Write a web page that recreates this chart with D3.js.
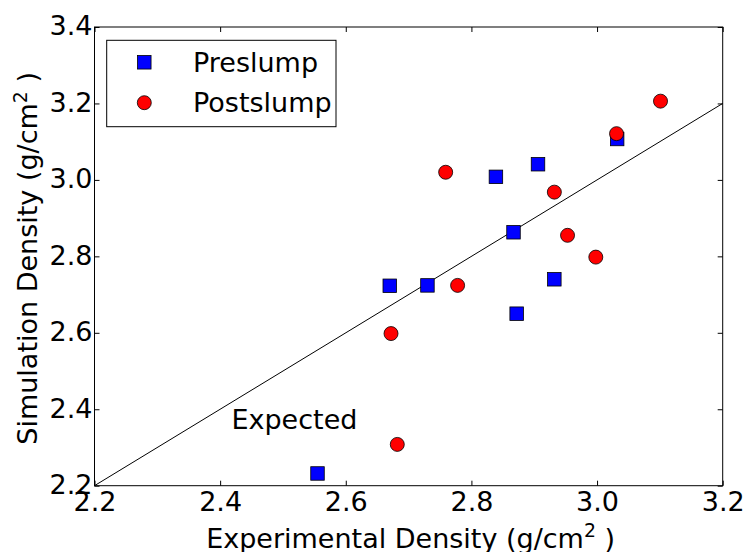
<!DOCTYPE html>
<html>
<head>
<meta charset="utf-8">
<script src="https://cdn.jsdelivr.net/npm/d3@7"></script>
<style>
  html, body { margin: 0; padding: 0; background: #fff; }
  svg { display: block; }
  text { font-family: "DejaVu Sans", sans-serif; fill: #000; }
</style>
</head>
<body>
<svg id="chart" width="747" height="552"></svg>
<script>
// Experimental vs simulated density, before and after slump
const preslumpX = [2.555, 2.670, 2.730, 2.872, 2.932, 2.867, 2.839, 2.906, 3.032];
const preslumpY = [2.232, 2.723, 2.724, 2.650, 2.740, 2.863, 3.008, 3.041, 3.107];
const postslumpX = [2.682, 2.672, 2.778, 2.759, 2.932, 2.953, 2.998, 3.031, 3.101];
const postslumpY = [2.308, 2.598, 2.724, 3.020, 2.968, 2.855, 2.798, 3.121, 3.206];
const xTicks = [2.2, 2.4, 2.6, 2.8, 3.0, 3.2];
const yTicks = [2.2, 2.4, 2.6, 2.8, 3.0, 3.2, 3.4];
const expectedLine = [2.2, 3.2];
const seriesNames = ["Preslump", "Postslump"];

const svg = d3.select("#chart");
const margin = { left: 94.5, top: 27, right: 747 - 722.7, bottom: 552 - 485.7 };
const W = 747 - margin.left - margin.right;
const H = 552 - margin.top - margin.bottom;
const FS = 27;

const x = d3.scaleLinear().domain([2.2, 3.2]).range([0, W]);
const y = d3.scaleLinear().domain([2.2, 3.4]).range([H, 0]);

const g = svg.append("g").attr("transform", `translate(${margin.left},${margin.top})`);

// inward ticks on all four sides
const tickLen = 5;
const fmt = d3.format(".1f");
const axB = g.append("g").attr("transform", `translate(0,${H})`)
  .call(d3.axisBottom(x).tickValues(xTicks).tickFormat(fmt).tickSizeInner(-tickLen).tickSizeOuter(0).tickPadding(6));
const axT = g.append("g")
  .call(d3.axisTop(x).tickValues(xTicks).tickFormat("").tickSizeInner(-tickLen).tickSizeOuter(0));
const axL = g.append("g")
  .call(d3.axisLeft(y).tickValues(yTicks).tickFormat(fmt).tickSizeInner(-tickLen).tickSizeOuter(0).tickPadding(2));
const axR = g.append("g").attr("transform", `translate(${W},0)`)
  .call(d3.axisRight(y).tickValues(yTicks).tickFormat("").tickSizeInner(-tickLen).tickSizeOuter(0));
[axB, axT, axL, axR].forEach(a => {
  a.select(".domain").remove();
  a.selectAll("line").attr("stroke", "#000").attr("stroke-width", 1);
  a.selectAll("text").attr("font-family", "DejaVu Sans").attr("font-size", FS).attr("fill", "#000");
});
axB.selectAll("text").attr("dy", "0.73em").attr("y", 6);
axL.selectAll("text").attr("dy", "0.29em");

// expected relation y = x
g.append("line")
  .attr("x1", x(expectedLine[0])).attr("y1", y(expectedLine[0]))
  .attr("x2", x(expectedLine[1])).attr("y2", y(expectedLine[1]))
  .attr("stroke", "#000").attr("stroke-width", 1);

const sq = 13.5;
g.append("g").selectAll("rect").data(preslumpX.map((v, i) => [v, preslumpY[i]])).join("rect")
  .attr("x", d => x(d[0]) - sq / 2).attr("y", d => y(d[1]) - sq / 2)
  .attr("width", sq).attr("height", sq)
  .attr("fill", "#0000ff").attr("stroke", "#000").attr("stroke-width", 0.8);

g.append("g").selectAll("circle").data(postslumpX.map((v, i) => [v, postslumpY[i]])).join("circle")
  .attr("cx", d => x(d[0])).attr("cy", d => y(d[1])).attr("r", 7)
  .attr("fill", "#ff0000").attr("stroke", "#000").attr("stroke-width", 0.8);

g.append("text").attr("x", x(2.418)).attr("y", y(2.349))
  .attr("font-size", FS).text("Expected");

// frame
g.append("rect").attr("width", W).attr("height", H)
  .attr("fill", "none").attr("stroke", "#000").attr("stroke-width", 1);

// legend
const lg = svg.append("g");
lg.append("rect").attr("x", 106.7).attr("y", 40.3).attr("width", 229.3).attr("height", 86.4)
  .attr("fill", "#fff").attr("stroke", "#000").attr("stroke-width", 1);
lg.append("rect").attr("x", 144.3 - sq / 2).attr("y", 62.3 - sq / 2).attr("width", sq).attr("height", sq)
  .attr("fill", "#0000ff").attr("stroke", "#000").attr("stroke-width", 0.8);
lg.append("circle").attr("cx", 144.3).attr("cy", 102.7).attr("r", 7)
  .attr("fill", "#ff0000").attr("stroke", "#000").attr("stroke-width", 0.8);
lg.append("text").attr("x", 193).attr("y", 62.3 + 9.5).attr("font-size", FS).text(seriesNames[0]);
lg.append("text").attr("x", 193).attr("y", 102.7 + 9.5).attr("font-size", FS).text(seriesNames[1]);

// axis titles with superscript
function unitLabel(sel, prefix) {
  sel.append("tspan").text(prefix + " (g/cm");
  sel.append("tspan").attr("font-size", FS * 0.7).attr("dy", "-0.55em").text("2");
  sel.append("tspan").attr("dy", "0.385em").text(" )");
}
const xl = svg.append("text").attr("x", margin.left + W / 2 + 2).attr("y", 547.5)
  .attr("text-anchor", "middle").attr("font-size", FS);
unitLabel(xl, "Experimental Density");
const yl = svg.append("text").attr("transform", `translate(37,${margin.top + H / 2 + 2}) rotate(-90)`)
  .attr("text-anchor", "middle").attr("font-size", FS);
unitLabel(yl, "Simulation Density");
</script>
</body>
</html>
